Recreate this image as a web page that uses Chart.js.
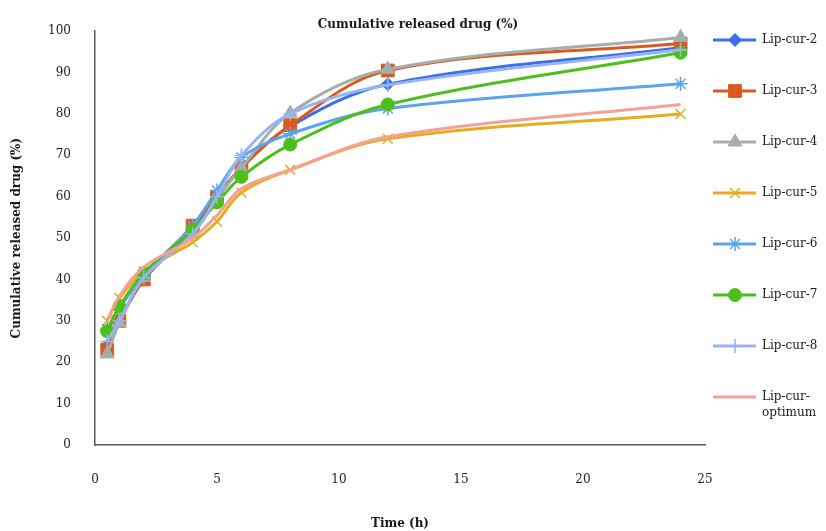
<!DOCTYPE html>
<html><head><meta charset="utf-8">
<script src="https://cdn.jsdelivr.net/npm/chart.js@4.4.0/dist/chart.umd.min.js"></script>
<style>html,body{margin:0;padding:0;background:#fff}#wrap{width:826px;height:531px}</style>
</head><body><div id="wrap"><canvas id="c" width="826" height="531"></canvas></div>
<script>
const timeHours = [0.5, 1, 2, 4, 5, 6, 8, 12, 24];
const lipCur2 = [24, 30, 40, 52, 60, 67, 77, 87.2, 96];
const lipCur3 = [23, 30, 40, 53, 60, 67, 77.3, 90.5, 97];
const lipCur4 = [22, 29.5, 40.5, 51, 59.5, 67, 80.2, 90.8, 98.5];
const lipCur5 = [30, 35.5, 42, 49, 54, 61, 66.5, 74, 80];
const lipCur6 = [28, 33, 41, 53, 61.5, 69.5, 75.2, 81.3, 87.3];
const lipCur7 = [27.5, 33.5, 41.5, 52, 58.6, 64.8, 72.6, 82.3, 94.8];
const lipCur8 = [25, 30, 40.5, 51, 60, 70, 80, 87, 95.5];
const lipCurOptimum = [30, 36, 43, 50, 55.5, 62, 66.5, 74.5, 82.3];
const seriesNames = ['Lip-cur-2', 'Lip-cur-3', 'Lip-cur-4', 'Lip-cur-5', 'Lip-cur-6', 'Lip-cur-7', 'Lip-cur-8', 'Lip-cur-\noptimum'];
const xTickValues = [0, 5, 10, 15, 20, 25];
const yTickValues = [0, 10, 20, 30, 40, 50, 60, 70, 80, 90, 100];
const chartTitle = 'Cumulative released drug (%)';
const xTitle = 'Time (h)';
const yTitle = 'Cumulative released drug (%)';

const allSeries = [lipCur2, lipCur3, lipCur4, lipCur5, lipCur6, lipCur7, lipCur8, lipCurOptimum];
const colors = ['#3b6fe8', '#d95a1c', '#a6aeab', '#e6ac1e', '#5aa5ec', '#4dbf1c', '#99b4f2', '#f5a196'];
const styles = ['rectRot', 'rect', 'triangle', 'crossRot', 'star', 'circle', 'cross', false];
const radii = [6.5, 9, 8, 7, 7, 6.5, 7, 0];
const pbw = [1, 1, 1, 1.5, 1.5, 1, 1.5, 0];

const FONT = '"DejaVu Serif", serif';

const datasets = allSeries.map((vals, i) => ({
  label: seriesNames[i],
  data: timeHours.map((t, j) => ({x: t, y: vals[j]})),
  borderColor: colors[i],
  backgroundColor: colors[i],
  pointBackgroundColor: colors[i],
  pointBorderColor: colors[i],
  pointStyle: styles[i],
  pointRadius: radii[i],
  pointBorderWidth: pbw[i],
  borderWidth: 3,
  tension: 0.35,
  fill: false,
  clip: false,
  order: -i
}));

const overlayPlugin = {
  id: 'overlay',
  afterDraw(chart) {
    const ctx = chart.ctx;
    ctx.save();
    ctx.fillStyle = '#1a1a1a';
    ctx.font = 'bold 12px ' + FONT;
    ctx.textAlign = 'center';
    ctx.textBaseline = 'middle';
    ctx.fillText(chartTitle, 418, 25);
    chart.data.datasets.forEach((ds, i) => {
      const y = 40 + i * 51;
      ctx.strokeStyle = ds.borderColor;
      ctx.lineWidth = 3;
      ctx.beginPath(); ctx.moveTo(713, y); ctx.lineTo(756, y); ctx.stroke();
      if (ds.pointStyle && ds.pointRadius > 0) {
        ctx.fillStyle = ds.pointBackgroundColor;
        ctx.strokeStyle = ds.pointBorderColor;
        ctx.lineWidth = ds.pointBorderWidth;
        Chart.helpers.drawPoint(ctx, {pointStyle: ds.pointStyle, radius: ds.pointRadius, borderWidth: ds.pointBorderWidth, rotation: 0}, 735, y);
      }
      ctx.fillStyle = '#1a1a1a';
      ctx.font = '12px ' + FONT;
      ctx.textAlign = 'left';
      ctx.textBaseline = 'middle';
      ds.label.split('\n').forEach((ln, k) => ctx.fillText(ln, 762, y + k * 16));
    });
    ctx.restore();
  }
};

new Chart(document.getElementById('c'), {
  type: 'line',
  data: {datasets},
  plugins: [overlayPlugin],
  options: {
    responsive: false,
    animation: false,
    devicePixelRatio: 1,
    layout: {padding: {left: 6, right: 121, top: 26, bottom: 0}},
    plugins: {legend: {display: false}, title: {display: false}, tooltip: {enabled: false}},
    scales: {
      x: {
        type: 'linear', min: 0, max: 25,
        afterBuildTicks: s => { s.ticks = xTickValues.map(v => ({value: v})); },
        afterFit: s => { s.height = 86; },
        grid: {display: false, drawTicks: false},
        border: {display: true, color: '#5a5a5a', width: 1.5},
        ticks: {padding: 28, font: {family: FONT, size: 12}, color: '#222'},
        title: {display: true, text: xTitle, font: {family: FONT, size: 12, weight: 'bold'}, color: '#1a1a1a', padding: {top: 0, bottom: 0}}
      },
      y: {
        min: 0, max: 100,
        afterBuildTicks: s => { s.ticks = yTickValues.map(v => ({value: v})); },
        afterFit: s => { s.width = 89; },
        grid: {display: false, drawTicks: false},
        border: {display: true, color: '#5a5a5a', width: 1.5},
        ticks: {padding: 24, font: {family: FONT, size: 12}, color: '#222'},
        title: {display: true, text: yTitle, font: {family: FONT, size: 12, weight: 'bold'}, color: '#1a1a1a', padding: {top: 4, bottom: 0}}
      }
    }
  }
});
</script></body></html>
